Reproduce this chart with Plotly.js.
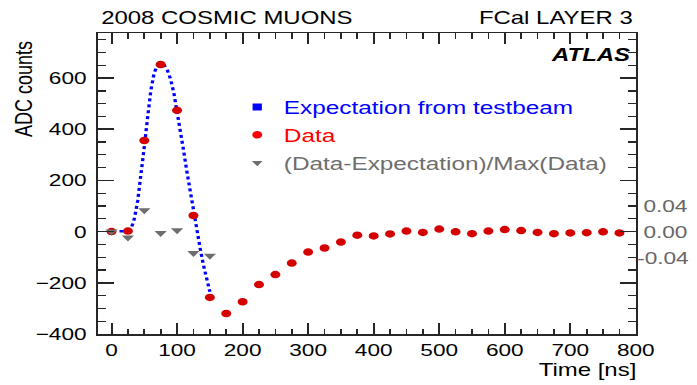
<!DOCTYPE html>
<html>
<head>
<meta charset="utf-8">
<script src="https://cdn.plot.ly/plotly-3.0.1.min.js"></script>
<style>
  html, body { margin: 0; padding: 0; background: #fff; overflow: hidden; }
  /* the canvas is laid out narrow and widened horizontally */
  #chart { width: 524px; height: 385px; transform: scaleX(1.3302); transform-origin: 0 0; }
</style>
</head>
<body>
<div id="chart"></div>
<script>
// Pulse samples (ns) and ADC counts
const dataTime = [0, 25, 50, 75, 100, 125, 150, 175, 200, 225,
                  250, 275, 300, 325, 350, 375, 400, 425, 450, 475,
                  500, 525, 550, 575, 600, 625, 650, 675, 700, 725,
                  750, 775];
const dataAdc = [0, 2, 356, 653, 474, 63, -257, -320, -274, -207,
                 -168, -123, -80, -64, -41, -14, -17, -9, 2, -3,
                 10, -1, -8, 2, 8, 4, -3, -8, -5, -4,
                 -1, -5];

// Testbeam prediction of the pulse peak region
const expTime = [0, 10, 20, 25, 30, 35, 40, 45, 50, 55, 60, 65, 70, 75, 80,
                 85, 90, 95, 100, 105, 110, 115, 120, 125, 130, 135, 140, 145, 150];
const expAdc = [0, 0, 0, 2, 12, 52, 122, 215, 332, 445, 552, 620, 650, 657, 652,
                632, 596, 543, 474, 398, 316, 234, 154, 78, 8, -62, -128, -184, -235];

// (Data - Expectation) / Max(Data)
const resTime = [0, 25, 50, 75, 100, 125, 150];
const resVal = [0.000, -0.009, 0.033, -0.002, 0.002, -0.033, -0.037];

// Axis ticks
const xTicks = [0, 100, 200, 300, 400, 500, 600, 700, 800];
const yTicks = [-400, -200, 0, 200, 400, 600];
const resTicks = [-0.04, 0, 0.04];
const resTickText = ['-0.04', '\u00a00.00', '\u00a00.04'];

const FONT = 'Liberation Sans, Arial, Helvetica, sans-serif';
const AXIS_COL = '#262626';
const RED = '#d40000';
const GREY = '#6e6e6e';
const BLUE = '#0000ff';

const xRange = [-20, 800];
const yRange = [-400, 776];
const resPerAdc = 0.04 / 101.5;

const traces = [
  {
    x: expTime, y: expAdc, type: 'scatter', mode: 'lines',
    line: { color: BLUE, width: 2.5, dash: 'dot' },
    showlegend: false, hoverinfo: 'skip'
  },
  {
    x: dataTime, y: dataAdc, type: 'scatter', mode: 'markers',
    marker: { color: RED, size: 7.5, symbol: 'circle' },
    showlegend: false
  },
  {
    x: resTime, y: resVal, type: 'scatter', mode: 'markers', yaxis: 'y2',
    marker: { color: GREY, size: 8, symbol: 'triangle-down' },
    showlegend: false
  },
  // legend entries
  {
    x: [null], y: [null], type: 'scatter', mode: 'markers', legendgroup: 'a',
    marker: { color: BLUE, size: 7, symbol: 'square' },
    name: '<span style="color:' + BLUE + '">Expectation from testbeam</span>'
  },
  {
    x: [null], y: [null], type: 'scatter', mode: 'markers', legendgroup: 'b',
    marker: { color: '#ff0000', size: 7.5, symbol: 'circle' },
    name: '<span style="color:#ff0000">Data</span>'
  },
  {
    x: [null], y: [null], type: 'scatter', mode: 'markers', legendgroup: 'c',
    marker: { color: GREY, size: 7, symbol: 'triangle-down' },
    name: '<span style="color:' + GREY + '">(Data-Expectation)/Max(Data)</span>'
  }
];

// frame: inside ticks mirrored on the opposite edges
function frameTicks(len, minorDtick) {
  return {
    showline: true, linecolor: AXIS_COL, linewidth: 1.5, mirror: 'ticks',
    ticks: 'inside', ticklen: len, tickwidth: 1.5, tickcolor: AXIS_COL,
    minor: { dtick: minorDtick, tick0: 0, ticks: 'inside', ticklen: len / 2,
             tickwidth: 1.3, tickcolor: AXIS_COL, showgrid: false },
    showgrid: false, zeroline: false
  };
}

const layout = {
  width: 524, height: 385,
  margin: { l: 74, r: 46, t: 33, b: 51, pad: 0 },
  paper_bgcolor: '#ffffff', plot_bgcolor: '#ffffff',
  font: { family: FONT, size: 17, color: '#000' },
  showlegend: true,
  legend: {
    x: 0.246, xanchor: 'left', y: 0.815, yanchor: 'top',
    bgcolor: 'rgba(0,0,0,0)', borderwidth: 0,
    font: { family: FONT, size: 18.3 },
    tracegroupgap: 1, itemclick: false
  },
  xaxis: Object.assign(frameTicks(11, 25), {
    range: xRange, tickvals: xTicks,
    tickfont: { family: FONT, size: 17, color: '#000' }
  }),
  yaxis: Object.assign(frameTicks(12, 50), {
    range: yRange, tickvals: yTicks,
    tickfont: { family: FONT, size: 17, color: '#000' },
    ticklabelstandoff: 4
  }),
  // residual scale on the right
  yaxis2: {
    overlaying: 'y', side: 'right', anchor: 'x',
    range: [yRange[0] * resPerAdc, yRange[1] * resPerAdc],
    tickvals: resTicks, ticktext: resTickText,
    showgrid: false, zeroline: false, showline: false, ticks: '',
    tickfont: { family: FONT, size: 17, color: '#666666' },
    ticklabelstandoff: 1.5
  },
  annotations: [
    { text: '2008 COSMIC MUONS', xref: 'paper', yref: 'paper', x: 0, y: 1,
      xanchor: 'left', yanchor: 'middle', yshift: 15, showarrow: false,
      font: { family: FONT, size: 18, color: '#000' } },
    { text: 'FCal LAYER 3', xref: 'paper', yref: 'paper', x: 1, y: 1,
      xanchor: 'right', yanchor: 'middle', yshift: 15, showarrow: false,
      font: { family: FONT, size: 18, color: '#000' } },
    { text: '<b><i>ATLAS</i></b>', xref: 'paper', yref: 'paper', x: 1, y: 1,
      xanchor: 'right', yanchor: 'middle', xshift: -2, yshift: -22, showarrow: false,
      font: { family: FONT, size: 18, color: '#000' } },
    { text: 'Time [ns]', xref: 'paper', yref: 'paper', x: 1, y: 0,
      xanchor: 'right', yanchor: 'middle', xshift: 2, yshift: -36, showarrow: false,
      font: { family: FONT, size: 18, color: '#000' } },
    { text: 'ADC counts', xref: 'paper', yref: 'paper', x: 0, y: 1,
      xanchor: 'center', yanchor: 'top', xshift: -56, yshift: -6, textangle: -90,
      showarrow: false, font: { family: FONT, size: 18, color: '#000' } }
  ]
};

Plotly.newPlot('chart', traces, layout, { staticPlot: true, displayModeBar: false });
</script>
</body>
</html>
